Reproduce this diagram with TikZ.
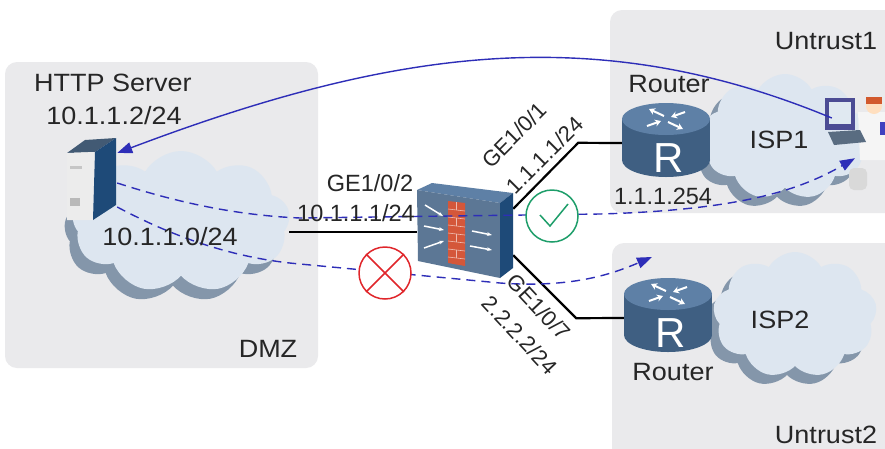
\documentclass[tikz,border=0pt]{standalone}
\usepackage{fontspec}
\setmainfont{Liberation Sans}
\newfontfamily\widefont{Liberation Sans}[FakeStretch=1.08]
\usetikzlibrary{shapes.symbols, arrows.meta}

\definecolor{zonegray}{HTML}{EAEAEC}
\definecolor{cloudfill}{HTML}{DDE6F0}
\definecolor{cloudshade}{HTML}{8496AA}
\definecolor{devblue}{HTML}{3F5F82}
\definecolor{devtop}{HTML}{5E80A6}
\definecolor{devdark}{HTML}{1E4A78}
\definecolor{flowblue}{HTML}{2E2EB8}
\definecolor{txtgray}{HTML}{262626}
\definecolor{denyred}{HTML}{E0262B}
\definecolor{okgreen}{HTML}{1E9E6A}
\definecolor{brickred}{HTML}{D4573A}

\tikzset{
  zone/.style={fill=zonegray, rounded corners=12pt},
  zonelbl/.style={font=\widefont\fontsize{25}{28}\selectfont, text=txtgray, inner sep=0pt},
  iflbl/.style={font=\fontsize{23.5}{26}\selectfont, text=txtgray, inner sep=0pt},
  portlbl/.style={font=\fontsize{22}{24}\selectfont, text=txtgray, inner sep=0pt},
  netcloud/.style={cloud, cloud puffs=9, cloud puff arc=120, aspect=1.5, fill=cloudfill, inner sep=0pt},
  cloudshadow/.style={netcloud, fill=cloudshade},
  devspot/.style={inner sep=0pt},
  link/.style={line width=2.2pt, black},
  flow/.style={flowblue, line width=1.4pt},
  dflow/.style={flow, dash pattern=on 9pt off 6pt},
  tip/.style={-{Triangle[length=15pt, width=11pt]}},
  marker/.style={circle, minimum size=52pt, fill=white, line width=1.5pt, inner sep=0pt},
  % router cylinder
  router/.pic={
    \fill[devblue] (-44,-24) rectangle (44,17);
    \fill[devblue] (0,17) ellipse [x radius=44, y radius=17];
    \fill[devtop] (0,-24) ellipse [x radius=44, y radius=16];
    \foreach \a/\b in {{(-2,-27)/(-17,-34)}, {(2,-21)/(17,-14)},
                       {(-19,-17)/(-5,-22)}, {(19,-31)/(5,-26)}}
      \draw[white, line width=2pt, -{Stealth[length=6pt, width=7pt]}] \a -- \b;
    \node[text=white, font=\fontsize{42}{42}\selectfont, inner sep=0pt] at (3,15) {R};
  },
  % firewall box with brick wall
  firewall/.pic={
    \fill[devtop] (-48,-42) -- (-33,-49) -- (48,-39) -- (35,-29) -- cycle;
    \fill[devblue!85!white] (-48,-42) -- (35,-29) -- (35,46) -- (-47,29) -- cycle;
    \fill[devdark] (35,-29) -- (48,-39) -- (48,36) -- (35,46) -- cycle;
    \fill[brickred] (-17,-31) -- (0,-29) -- (0,34) -- (-17,31) -- cycle;
    \foreach \k in {1,...,7}
      \draw[brickred!40!white, line width=0.6pt] (-17,{-31+8*\k}) -- (0,{-29+8*\k});
    \foreach \k in {0,2,4,6}
      \draw[brickred!40!white, line width=0.6pt] (-9,{-30+8*\k}) -- (-9,{-22+8*\k});
    \foreach \a/\b in {{(-40,-27)/(-22,-16)}, {(-41,-6)/(-21,-2)}, {(-41,16)/(-21,9)},
                       {(7,-1)/(27,3)}, {(5,14)/(27,18)}}
      \draw[white, line width=1.5pt, -{Stealth[length=5pt]}] \a -- \b;
  },
  % tower server
  server/.pic={
    \fill[devtop!70!black] (-25,-27) -- (-7,-40) -- (24,-42) -- (3,-28) -- cycle;
    \fill[gray!15] (-25,-27) -- (3,-28) -- (1,40) -- (-25,40) -- cycle;
    \fill[gray!45] (-22,-14) rectangle (-10,-11);
    \fill[gray!55] (-22,18) rectangle (-12,26);
    \fill[devdark] (3,-28) -- (24,-42) -- (24,25) -- (1,40) -- cycle;
  },
  % user at a desk
  workstation/.pic={
    \fill[gray!30, rounded corners=5pt] (-6,40) rectangle (12,62);
    \fill[white!96!black] (3,-16) -- (30,-16) -- (30,32) -- (5,32) -- cycle;
    \fill[blue!50!gray] (25,-6) rectangle (30,7);
    \fill[black!30!blue!40!gray] (-30,-30) rectangle (0,2);
    \fill[cloudfill!90!white] (-26,-26) rectangle (-4,-4);
    \fill[devblue!60!gray] (-27,4) -- (5,2) -- (11,14) -- (-21,17) -- cycle;
    \fill[orange!25!white] (19,-22) circle (8);
    \fill[brown!70!red] (11,-31) rectangle (27,-24);
  },
}

\begin{document}
\begin{tikzpicture}[x=1pt, y=-1pt]
  \path[use as bounding box] (0,0) rectangle (885,448);
  \clip (0,0) rectangle (885,448);
  \fill[white] (0,0) rectangle (885,448);

  % security zones
  \fill[zone] (5,62) rectangle (318,368);
  \fill[zone] (610,10) rectangle (900,213);
  \fill[zone] (612,243) rectangle (900,460);

  % clouds
  \node[cloudshadow, minimum width=218pt, minimum height=142pt] at (173,232) {};
  \node[netcloud, minimum width=218pt, minimum height=142pt] (dmz) at (181,222) {};
  \node[cloudshadow, minimum width=166pt, minimum height=126pt] at (777,146) {};
  \node[netcloud, minimum width=166pt, minimum height=126pt] (isp1) at (785,137) {};
  \node[cloudshadow, minimum width=164pt, minimum height=126pt] at (787,324) {};
  \node[netcloud, minimum width=164pt, minimum height=126pt] (isp2) at (795,315) {};

  % device anchors
  \node[devspot, minimum width=50pt, minimum height=82pt] (srv) at (92,180) {};
  \node[devspot, minimum width=96pt, minimum height=46pt] (fw) at (465,232) {};
  \node[devspot, minimum width=88pt, minimum height=58pt] (r1) at (666,143) {};
  \node[devspot, minimum width=88pt, minimum height=58pt] (r2) at (668,318) {};
  \node[devspot, minimum width=46pt, minimum height=60pt] (pc) at (855,128) {};
  \coordinate (isp2in) at (652,257);

  % cabling
  \draw[link] (dmz.east |- fw.west) -- (fw.west);
  \draw[link] (fw.north east) -- ++(65,-66) -- (r1.west);
  \draw[link] (fw.south east) -- ++(63,63) -- (r2.west);

  % devices
  \pic at (srv) {server};
  \pic at (fw) {firewall};
  \pic at (r1) {router};
  \pic at (r2) {router};
  \pic at (pc) {workstation};

  % traffic
  \draw[flow, tip] ([yshift=10pt]pc.west) .. controls (600,22) and (400,46) .. ([yshift=27pt]srv.east);
  \draw[dflow, tip] ([yshift=-3pt]srv.east) .. controls (170,200) and (230,215) .. (300,218)
    -- (600,214) .. controls (740,210) and (800,190) .. (pc.south);
  \draw[dflow, tip] ([yshift=-27pt]srv.east) .. controls (170,235) and (230,258) .. (300,264)
    -- (500,283) .. controls (570,288) and (610,275) .. (isp2in);

  % permit / deny marks
  \node[marker, draw=okgreen] (permit) at (552,216) {};
  \draw[okgreen, line width=1.5pt] ([shift={(-12,-1)}]permit.center) -- ++(10,11) -- ++(18,-22);
  \node[marker, draw=denyred] (deny) at (385,273) {};
  \draw[denyred, line width=1.5pt] (deny.north west) -- (deny.south east)
    (deny.north east) -- (deny.south west);

  % labels
  \node[zonelbl] (srvname) at (113,83) {HTTP Server};
  \node[zonelbl] (srvip) at (114,116) {10.1.1.2/24};
  \node[zonelbl] (dmznet) at (170,237) {10.1.1.0/24};
  \node[zonelbl] (dmzname) at (268,349) {DMZ};
  \node[iflbl] (fwport2) at (370,183) {GE1/0/2};
  \node[iflbl] (fwip2) at (356,213) {10.1.1.1/24};
  \node[portlbl, rotate=45] (fwport1) at (514,135) {GE1/0/1};
  \node[portlbl, rotate=45] (fwip1) at (545,155) {1.1.1.1/24};
  \node[portlbl, rotate=-47] (fwport7) at (539,307) {GE1/0/7};
  \node[portlbl, rotate=-47] (fwip7) at (520,335) {2.2.2.2/24};
  \node[zonelbl] (r1name) at (669,84) {Router};
  \node[iflbl] (r1ip) at (663,196) {1.1.1.254};
  \node[zonelbl] (isp1name) at (779,140) {ISP1};
  \node[zonelbl] (u1name) at (826,41) {Untrust1};
  \node[zonelbl] (r2name) at (673,372) {Router};
  \node[zonelbl] (isp2name) at (780,320) {ISP2};
  \node[zonelbl] (u2name) at (826,435) {Untrust2};
\end{tikzpicture}
\end{document}
